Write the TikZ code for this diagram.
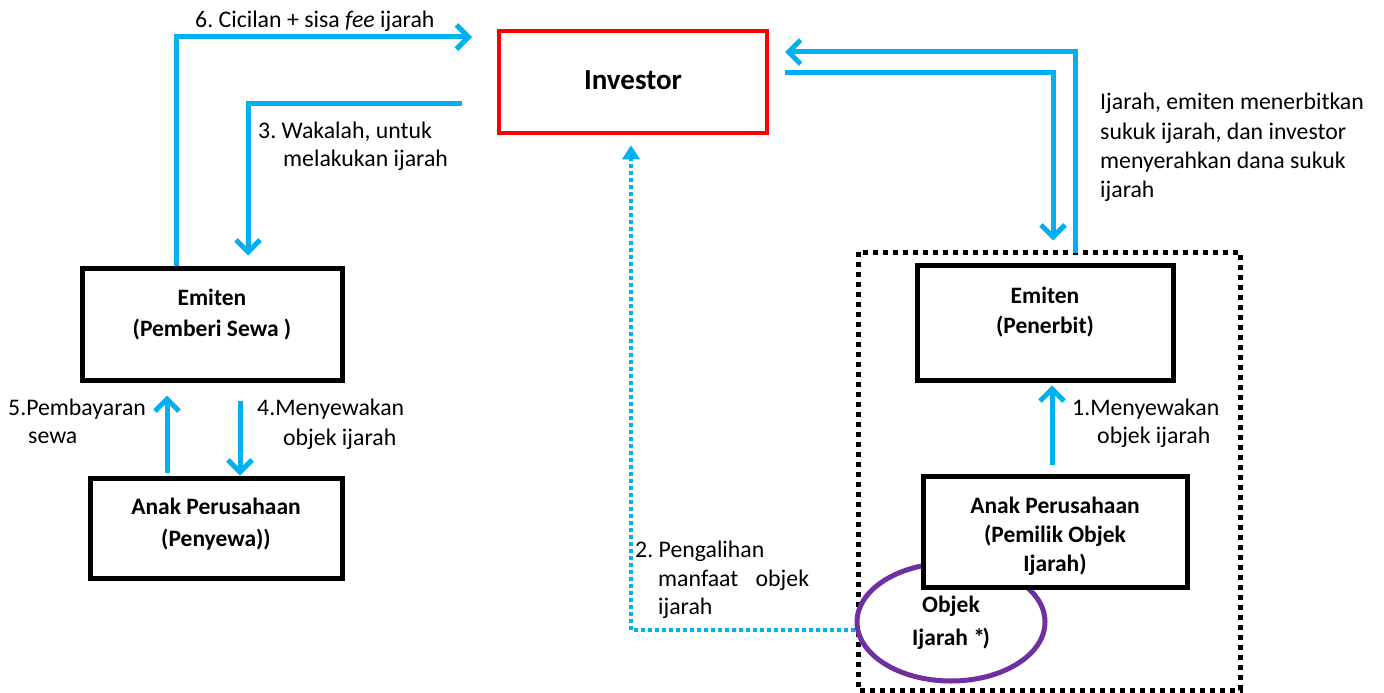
\documentclass[tikz,border=0pt]{standalone}
\usepackage{fontspec}
\setmainfont{Carlito}
\usetikzlibrary{arrows.meta,shapes.geometric,calc}
\definecolor{flowblue}{HTML}{00B0F0}
\definecolor{objpurple}{HTML}{7030A0}
\definecolor{invred}{HTML}{FF0000}
\frenchspacing

\begin{document}
\begin{tikzpicture}[x=1pt,y=-1pt,
  partybox/.style={draw=black,line width=5pt,fill=white,rectangle,inner sep=0pt},
  boxtext/.style={font=\bfseries\fontsize{23.5}{30}\selectfont,inner sep=0pt,anchor=base},
  lbl/.style={font=\fontsize{23.8}{28.5}\selectfont,inner sep=0pt,anchor=base west},
  flow/.style={draw=flowblue,line width=5pt,
    -{Straight Barb[length=12pt,width=24pt,line width=5pt]}},
  transfer/.style={draw=flowblue,line width=3.5pt,dash pattern=on 3.5pt off 3.5pt,
    -{Triangle[length=14pt,width=17pt]}},
  group/.style={draw=black,line width=5pt,dash pattern=on 5pt off 5pt}
]
\useasboundingbox (0,0) rectangle (1384,693);

% grouping of the issuer side
\draw[group] (858,252) rectangle (1240,690);

% parties
\node[partybox,draw=invred,line width=4.5pt,minimum width=268pt,minimum height=102pt]
  (inv) at (633,82) {};
\node[font=\bfseries\fontsize{29}{34}\selectfont,inner sep=0pt,anchor=base] (invtext) at (633,89) {Investor};

\node[partybox,minimum width=260pt,minimum height=112pt] (emA) at (212,324) {};
\node[boxtext] (emA1) at (212,305) {Emiten};
\node[boxtext] (emA2) at (212,336) {(Pemberi Sewa )};

\node[partybox,minimum width=252pt,minimum height=100pt] (anakA) at (216,528) {};
\node[boxtext] (anakA1) at (216,514) {Anak Perusahaan};
\node[boxtext] (anakA2) at (216,546) {(Penyewa))};

\node[partybox,minimum width=256pt,minimum height=115pt] (emB) at (1045,322.5) {};
\node[boxtext] (emB1) at (1045,303) {Emiten};
\node[boxtext] (emB2) at (1045,333) {(Penerbit)};

% the leased object, partly behind its owner
\node[draw=objpurple,line width=5pt,fill=white,ellipse,minimum width=188pt,minimum height=118pt,inner sep=0pt]
  (obj) at (951,622) {};
\node[partybox,minimum width=264pt,minimum height=111pt] (anakB) at (1055,531.5) {};
\node[boxtext] (anakB1) at (1055,513) {Anak Perusahaan};
\node[boxtext] (anakB2) at (1055,542) {(Pemilik Objek};
\node[boxtext] (anakB3) at (1055,571) {Ijarah)};
\node[boxtext] (obj1) at (951,612) {Objek};
\node[boxtext] (obj2) at (951,645) {Ijarah *\kern-2.5pt)};

% connectors
\coordinate (t6) at (472,37);
\coordinate (s3) at (462,103);
\coordinate (t7) at (785,52);
\coordinate (s8) at (785,73);

\draw[flow] ([xshift=-36pt]emA.north) |- (t6);
\draw[flow] (s3) -| ([xshift=36pt,yshift=10pt]emA.north);
\draw[flow] ([xshift=30pt,yshift=10pt]emB.north) |- (t7);
\draw[flow] (s8) -| ([xshift=8pt,yshift=22pt]emB.north);
\draw[flow] ([xshift=-49pt,yshift=3pt]anakA.north) -- ([xshift=-45pt,yshift=-13pt]emA.south);
\draw[flow] ([xshift=28pt,yshift=-18pt]emA.south) -- ([xshift=24pt]anakA.north);
\draw[flow] ([xshift=-3pt,yshift=9pt]anakB.north) -- ([xshift=7pt,yshift=-3pt]emB.south);
\draw[transfer] ([yshift=-8pt]obj.west) -| ([xshift=-2pt,yshift=-10pt]inv.south);

% labels
\node[lbl] (l6) at (195,28) {6. Cicilan + sisa \textit{fee} ijarah};
\node[lbl] (l3a) at (258,138) {3. Wakalah, untuk};
\node[lbl] (l3b) at (283,166) {melakukan ijarah};
\node[lbl] (lra) at (1100,110) {Ijarah, emiten menerbitkan};
\node[lbl] (lrb) at (1100,139) {sukuk ijarah, dan investor};
\node[lbl] (lrc) at (1100,168) {menyerahkan dana sukuk};
\node[lbl] (lrd) at (1100,197) {ijarah};
\node[lbl] (l5a) at (8,415) {5.Pembayaran};
\node[lbl] (l5b) at (28,443) {sewa};
\node[lbl] (l4a) at (257,415) {4.Menyewakan};
\node[lbl] (l4b) at (283,445) {objek ijarah};
\node[lbl] (l1a) at (1072,415) {1.Menyewakan};
\node[lbl] (l1b) at (1097,443) {objek ijarah};
\node[lbl] (l2a) at (635,557) {2. Pengalihan};
\node[lbl] (l2b) at (658,586) {manfaat\hspace{12pt} objek};
\node[lbl] (l2c) at (658,614) {ijarah};
\end{tikzpicture}
\end{document}
